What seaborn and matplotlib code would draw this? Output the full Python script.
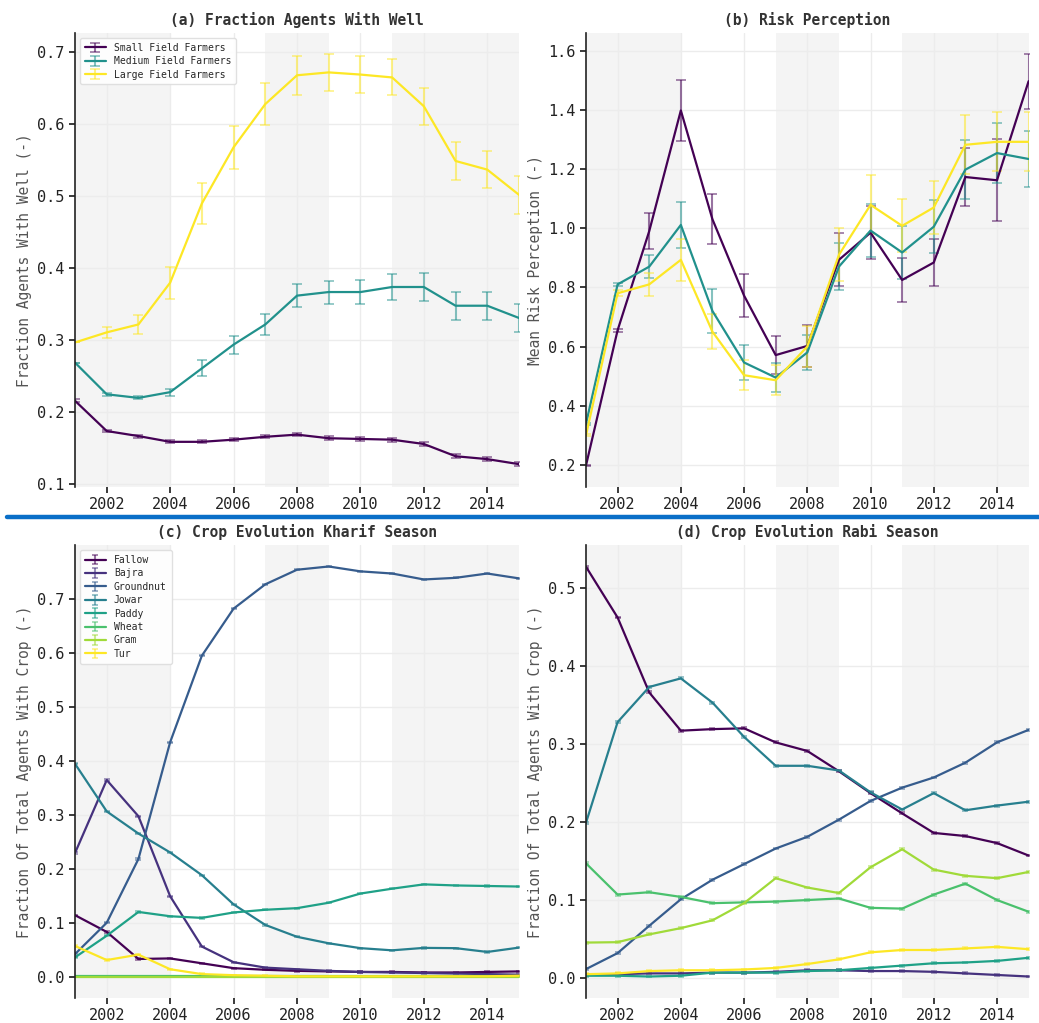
import numpy as np
import matplotlib
matplotlib.use('Agg')
import matplotlib.pyplot as plt
import seaborn as sns

# years on the x axis
years = list(range(2001, 2016))

# (a) fraction of agents with a well
well_small = [0.216, 0.174, 0.167, 0.159, 0.159, 0.162, 0.166, 0.169, 0.164, 0.163, 0.162, 0.156, 0.139, 0.135, 0.128]
well_small_err = [0.002, 0.002, 0.002, 0.002, 0.002, 0.002, 0.002, 0.002, 0.003, 0.003, 0.003, 0.003, 0.003, 0.003, 0.003]
well_medium = [0.269, 0.225, 0.220, 0.228, 0.261, 0.294, 0.322, 0.362, 0.367, 0.367, 0.374, 0.374, 0.348, 0.348, 0.331]
well_medium_err = [0.0, 0.002, 0.002, 0.005, 0.011, 0.0125, 0.014, 0.016, 0.016, 0.017, 0.0175, 0.019, 0.0195, 0.0195, 0.0195]
well_large = [0.297, 0.311, 0.322, 0.380, 0.490, 0.568, 0.628, 0.668, 0.672, 0.669, 0.665, 0.625, 0.549, 0.537, 0.502]
well_large_err = [0.0, 0.008, 0.013, 0.022, 0.029, 0.030, 0.029, 0.027, 0.026, 0.026, 0.025, 0.026, 0.027, 0.026, 0.026]

# (b) mean risk perception
risk_small = [0.198, 0.655, 0.99, 1.398, 1.03, 0.772, 0.571, 0.602, 0.893, 0.985, 0.825, 0.884, 1.173, 1.162, 1.497]
risk_small_err = [0.003, 0.005, 0.06, 0.103, 0.084, 0.073, 0.065, 0.07, 0.09, 0.09, 0.075, 0.08, 0.099, 0.138, 0.093]
risk_medium = [0.339, 0.81, 0.87, 1.011, 0.72, 0.546, 0.495, 0.58, 0.87, 0.992, 0.918, 1.005, 1.198, 1.254, 1.234]
risk_medium_err = [0.003, 0.005, 0.04, 0.077, 0.075, 0.06, 0.05, 0.06, 0.08, 0.09, 0.09, 0.09, 0.1, 0.1, 0.096]
risk_large = [0.30, 0.78, 0.81, 0.893, 0.65, 0.503, 0.486, 0.60, 0.91, 1.079, 1.008, 1.07, 1.282, 1.292, 1.292]
risk_large_err = [0.003, 0.01, 0.04, 0.07, 0.06, 0.05, 0.05, 0.07, 0.09, 0.1, 0.09, 0.09, 0.1, 0.1, 0.1]

farmer_labels = ['Small Field Farmers', 'Medium Field Farmers', 'Large Field Farmers']
crop_labels = ['Fallow', 'Bajra', 'Groundnut', 'Jowar', 'Paddy', 'Wheat', 'Gram', 'Tur']

# (c) kharif season crop fractions
kharif_fallow = [0.115, 0.084, 0.034, 0.035, 0.026, 0.017, 0.014, 0.012, 0.011, 0.010, 0.010, 0.009, 0.009, 0.010, 0.011]
kharif_bajra = [0.230, 0.365, 0.298, 0.150, 0.057, 0.028, 0.018, 0.015, 0.012, 0.010, 0.009, 0.008, 0.007, 0.006, 0.005]
kharif_groundnut = [0.043, 0.101, 0.219, 0.435, 0.595, 0.682, 0.727, 0.754, 0.760, 0.751, 0.747, 0.736, 0.739, 0.747, 0.738]
kharif_jowar = [0.395, 0.307, 0.266, 0.231, 0.189, 0.135, 0.097, 0.075, 0.063, 0.054, 0.050, 0.0545, 0.054, 0.047, 0.055]
kharif_paddy = [0.037, 0.077, 0.121, 0.113, 0.110, 0.120, 0.125, 0.128, 0.138, 0.155, 0.164, 0.172, 0.170, 0.169, 0.168]
kharif_wheat = [0.002, 0.002, 0.002, 0.002, 0.002, 0.002, 0.002, 0.002, 0.002, 0.002, 0.002, 0.002, 0.002, 0.002, 0.002]
kharif_gram = [0.001, 0.001, 0.001, 0.001, 0.001, 0.001, 0.001, 0.001, 0.001, 0.001, 0.001, 0.001, 0.001, 0.001, 0.001]
kharif_tur = [0.058, 0.032, 0.042, 0.015, 0.006, 0.004, 0.003, 0.002, 0.002, 0.002, 0.002, 0.002, 0.002, 0.002, 0.003]

# (d) rabi season crop fractions
rabi_fallow = [0.527, 0.462, 0.366, 0.317, 0.319, 0.320, 0.302, 0.291, 0.265, 0.237, 0.211, 0.186, 0.182, 0.173, 0.157]
rabi_bajra = [0.004, 0.005, 0.006, 0.006, 0.007, 0.007, 0.008, 0.010, 0.010, 0.009, 0.009, 0.008, 0.006, 0.004, 0.002]
rabi_groundnut = [0.0115, 0.032, 0.067, 0.101, 0.126, 0.146, 0.166, 0.181, 0.203, 0.227, 0.244, 0.257, 0.276, 0.302, 0.318]
rabi_jowar = [0.199, 0.328, 0.373, 0.384, 0.353, 0.309, 0.272, 0.272, 0.266, 0.238, 0.216, 0.237, 0.215, 0.221, 0.226]
rabi_paddy = [0.003, 0.003, 0.002, 0.003, 0.007, 0.007, 0.007, 0.009, 0.010, 0.013, 0.016, 0.019, 0.020, 0.022, 0.026]
rabi_wheat = [0.147, 0.107, 0.110, 0.104, 0.096, 0.097, 0.098, 0.100, 0.102, 0.090, 0.089, 0.107, 0.121, 0.100, 0.085]
rabi_gram = [0.0455, 0.046, 0.056, 0.064, 0.074, 0.096, 0.128, 0.116, 0.109, 0.142, 0.165, 0.139, 0.131, 0.128, 0.136]
rabi_tur = [0.005, 0.006, 0.009, 0.010, 0.010, 0.011, 0.013, 0.018, 0.024, 0.033, 0.036, 0.036, 0.038, 0.040, 0.037]

crop_err = 0.0012

# grey bands behind the curves
bands = [(2001, 2004), (2007, 2009), (2011, 2015)]

sns.set_theme(style="whitegrid")
plt.rcParams['font.family'] = ['DejaVu Sans Mono', 'DejaVu Sans']
plt.rcParams['xtick.bottom'] = True
plt.rcParams['ytick.left'] = True
plt.rcParams['xtick.major.size'] = 4
plt.rcParams['ytick.major.size'] = 4
plt.rcParams['xtick.color'] = '#222222'
plt.rcParams['ytick.color'] = '#222222'
plt.rcParams['grid.color'] = '#ececec'

fig = plt.figure(figsize=(10.39, 10.23), dpi=100)
ax_a = fig.add_axes([0.0722, 0.524, 0.4273, 0.4437])
ax_b = fig.add_axes([0.564, 0.524, 0.426, 0.4437])
ax_c = fig.add_axes([0.0722, 0.0244, 0.4273, 0.4426])
ax_d = fig.add_axes([0.564, 0.0244, 0.426, 0.4426])


def draw(ax, series, errs, labels, colors, title, ylabel, legend, cap):
    for y, e, lab, col in zip(series, errs, labels, colors):
        ax.errorbar(years, y, yerr=e, color=col, lw=1.6, label=lab,
                    ecolor=(*col[:3], 0.55), elinewidth=1.5, capsize=cap, capthick=1.2)
    for x0, x1 in bands:
        ax.axvspan(x0, x1, color='#f4f4f4', zorder=0, lw=0)
    ax.set_axisbelow(True)
    ax.set_xlim(2001, 2015)
    ax.set_xticks(range(2002, 2015, 2))
    ax.tick_params(labelsize=11)
    ax.set_title(title, fontsize=10.5, fontweight='bold', color='#333333', pad=6)
    ax.set_ylabel(ylabel, fontsize=10.5, color='#555555')
    sns.despine(ax=ax, bottom=True)
    ax.spines['left'].set_color('#222222')
    ax.spines['left'].set_linewidth(1.2)
    if legend:
        ax.legend(loc='upper left', fontsize=7, frameon=True, framealpha=0.9,
                  edgecolor='#dddddd', handlelength=2.2, borderpad=0.5, labelspacing=0.35)


col3 = [plt.cm.viridis(v) for v in np.linspace(0, 1, 3)]
col8 = [plt.cm.viridis(v) for v in np.linspace(0, 1, 8)]

draw(ax_a, [well_small, well_medium, well_large],
     [well_small_err, well_medium_err, well_large_err],
     farmer_labels, col3, '(a) Fraction Agents With Well', 'Fraction Agents With Well (-)', True, 3.5)
ax_a.set_yticks([0.1, 0.2, 0.3, 0.4, 0.5, 0.6, 0.7])

draw(ax_b, [risk_small, risk_medium, risk_large],
     [risk_small_err, risk_medium_err, risk_large_err],
     farmer_labels, col3, '(b) Risk Perception', 'Mean Risk Perception (-)', False, 3.5)
ax_b.set_yticks([0.2, 0.4, 0.6, 0.8, 1.0, 1.2, 1.4, 1.6])

kharif = [kharif_fallow, kharif_bajra, kharif_groundnut, kharif_jowar,
          kharif_paddy, kharif_wheat, kharif_gram, kharif_tur]
draw(ax_c, kharif, [crop_err] * 8, crop_labels, col8,
     '(c) Crop Evolution Kharif Season', 'Fraction Of Total Agents With Crop (-)', True, 2.5)
ax_c.set_yticks([0.0, 0.1, 0.2, 0.3, 0.4, 0.5, 0.6, 0.7])

rabi = [rabi_fallow, rabi_bajra, rabi_groundnut, rabi_jowar,
        rabi_paddy, rabi_wheat, rabi_gram, rabi_tur]
draw(ax_d, rabi, [crop_err] * 8, crop_labels, col8,
     '(d) Crop Evolution Rabi Season', 'Fraction Of Total Agents With Crop (-)', False, 2.5)
ax_d.set_yticks([0.0, 0.1, 0.2, 0.3, 0.4, 0.5])

# blue divider between the two rows
fig.add_artist(plt.Line2D([0.007, 1.0], [0.4946, 0.4946], color='#0a6fc8', lw=3.2))

fig.savefig('out.png', dpi=100)
